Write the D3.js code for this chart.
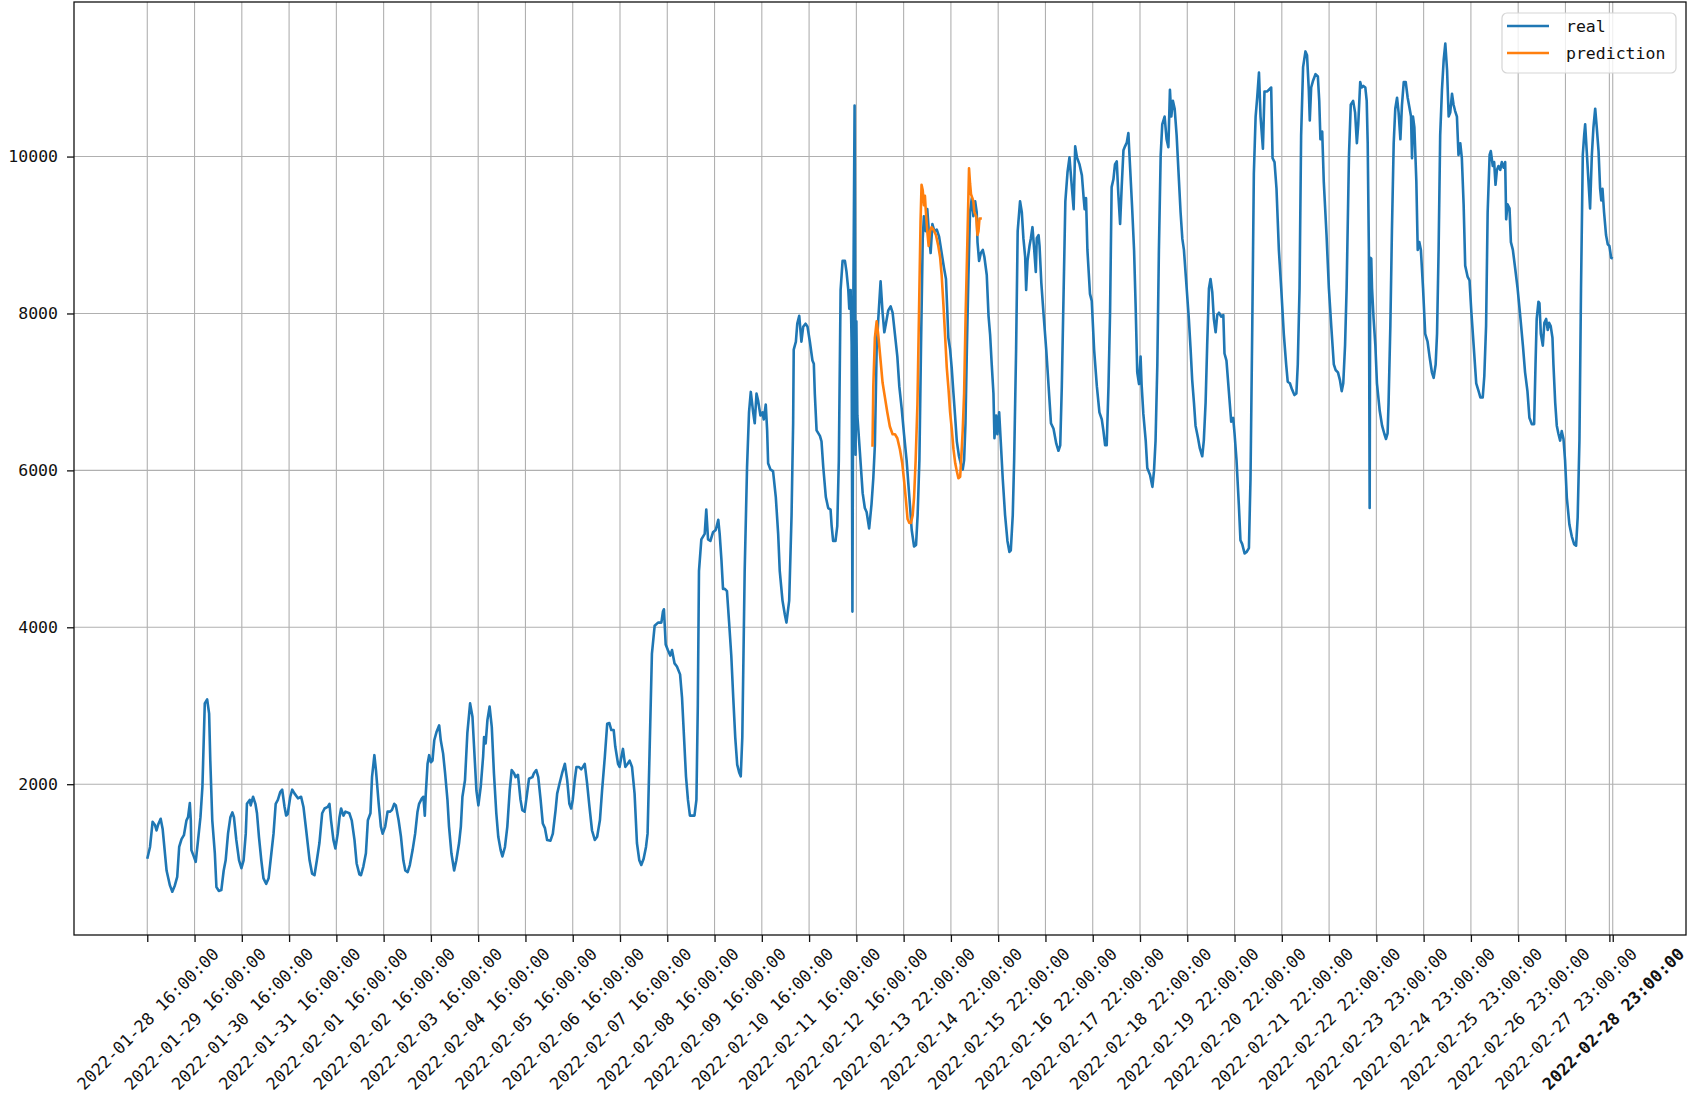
<!DOCTYPE html>
<html>
<head>
<meta charset="utf-8">
<script src="https://cdn.jsdelivr.net/npm/d3@7"></script>
<style>
  body { margin: 0; background: #fff; }
  svg { display: block; }
</style>
</head>
<body>
<svg id="chart"></svg>
<script>

WIDTH = 1707;
HEIGHT = 1098;

// hour index from 2022-01-28 16:00 (one point per hour)
const realHour = [
  0, 1.4, 2.7, 3.9, 4.7, 5.6, 6.8, 7.8, 9.8, 11.5,
  12.7, 14, 15.2, 16.2, 17.4, 18.6, 19.9, 20.7, 21.6, 22.1,
  22.4, 23.6, 24.6, 25.8, 27, 28, 29.2, 30.4, 31.4, 32,
  33, 34.3, 35.1, 36.3, 37.6, 38.8, 39.8, 41, 42.2, 43.2,
  44, 45.2, 46.6, 47.8, 48.9, 50, 50.6, 52, 52.5, 53.7,
  54.9, 55.7, 56.7, 57.9, 59, 60.4, 61.6, 63, 64.1, 65.2,
  66.3, 67.5, 68.5, 69.7, 70.5, 71.3, 72.6, 73.6, 74.8, 76.5,
  78.1, 79.3, 80.7, 82.4, 83.7, 84.9, 86.1, 87.4, 88.8, 90,
  91.6, 92.5, 93.3, 94.5, 95.5, 96.7, 97.6, 98.4, 99.6, 100.6,
  102.6, 103.8, 105.2, 106.3, 107.7, 108.5, 109.7, 111, 112, 113.3,
  114.1, 115.3, 116.1, 117.5, 118.6, 119.5, 120.8, 122, 123.2, 124.2,
  125.4, 126.2, 127.6, 128.8, 130, 131, 132.2, 133.3, 134.7, 136,
  137.2, 138, 139.4, 140.2, 140.9, 141.4, 142.3, 143.1, 144, 144.8,
  145.7, 146.9, 148.2, 149, 150.2, 151.2, 152.4, 153.2, 154.4, 155.8,
  156.9, 158.3, 159.2, 160, 161.3, 162.5, 163.9, 165.1, 165.9, 167.1,
  168.1, 169.3, 170.5, 171, 171.8, 172.7, 173.8, 174.9, 176, 177.2,
  178.2, 179.4, 180.3, 181.6, 182.8, 184, 185, 186.2, 187, 188.2,
  189.5, 190.4, 191.6, 192.4, 193.8, 195.5, 196.3, 197.5, 198.5, 199.7,
  200.8, 201.9, 203, 204.7, 205.9, 207.3, 208.1, 209.3, 210.6, 212,
  213.2, 214.3, 215.2, 216, 217, 217.9, 219.1, 220.3, 221.2, 222.1,
  223.3, 224.5, 225.8, 227.2, 228.4, 229.8, 230.9, 232.3, 233.5, 234.6,
  235.6, 236.8, 237.6, 239, 239.8, 240.7, 241.5, 242.7, 243.9, 244.9,
  246.1, 247.4, 248.6, 249.8, 250.8, 252, 253.2, 254, 255, 256.2,
  257.6, 259.3, 261, 261.8, 262.3, 263.2, 264.3, 265.5, 266.4, 267.7,
  268.9, 270.5, 271.5, 272.5, 273.5, 274.5, 275.5, 277.8, 278.8, 279.5,
  280.1, 281.3, 283, 283.8, 284.7, 285.9, 287.2, 288.6, 289.9, 290.6,
  291.5, 292.3, 293.2, 294.3, 295.4, 296.5, 297.5, 298.5, 299.5, 300.5,
  301.3, 302.1, 303.3, 304.5, 305.5, 306.4, 307.6, 308.4, 309.3, 310.1,
  311.3, 312.3, 313, 314, 314.7, 315.2, 316.4, 317.7, 319.1, 320.3,
  321.1, 322.5, 323.7, 324.5, 325.9, 327.1, 327.9, 328.2, 329.3, 330,
  331, 332.1, 333, 334.2, 335.2, 336.4, 337.7, 338.4, 338.9, 339.8,
  341.5, 342.3, 343.2, 344.5, 345.7, 346.9, 347.4, 348.2, 349.4, 350.3,
  351.1, 352, 353, 354.2, 355, 355.9, 356.4, 357.1, 357.6, 358,
  358.5, 359.1, 359.6, 360, 360.5, 361.8, 363.2, 364.3, 365.2, 366.5,
  367.7, 368.6, 369.4, 370.3, 371.1, 372.3, 373.3, 374.2, 375, 376.2,
  377.4, 378.4, 379.6, 380.8, 381.8, 383, 384.2, 385.5, 386.9, 388.1,
  389.3, 390.3, 391.1, 392, 392.8, 393.7, 394.3, 395.2, 396, 396.9,
  397.7, 398.6, 399.6, 400.8, 402, 403.3, 404.5, 405.5, 406.2, 406.7,
  407.6, 408.4, 409.3, 410.1, 411, 412.1, 413, 414, 414.7, 415.4,
  416.1, 416.9, 417.7, 418.6, 419.4, 420.3, 421.1, 421.5, 422.3, 423.2,
  424.2, 425, 426.2, 427.1, 427.9, 428.7, 429.6, 430.1, 431, 431.6,
  432.5, 433.3, 434.3, 435.5, 436.7, 437.7, 438.4, 439.4, 440.1, 441.1,
  441.9, 443.1, 444, 444.8, 445.7, 446.2, 446.9, 447.9, 448.6, 449.4,
  450.3, 451.1, 451.6, 452.5, 453, 453.9, 455.1, 456.4, 457.6, 458.8,
  460.1, 461.5, 462.6, 463.5, 464.3, 465.2, 466.1, 467.2, 468.2, 469.4,
  470.3, 471.1, 472, 473.3, 474.5, 475.4, 475.9, 476.6, 477.3, 478.6,
  479.5, 480.7, 482.1, 483.4, 484.6, 485.4, 486.3, 487.1, 488, 488.8,
  489.6, 490.5, 491.3, 492.2, 493, 493.9, 494.7, 495.6, 496.4, 497.3,
  498.1, 499, 500, 501, 501.8, 502.6, 503.5, 504.3, 504.8, 505.7,
  506.9, 507.7, 509.1, 510.3, 511.1, 511.9, 512.8, 513.6, 514.5, 515.3,
  516.5, 517.5, 518.4, 519.2, 519.9, 520.7, 521.6, 522.6, 523.8, 524.6,
  525.5, 526.3, 527.7, 528.8, 529.7, 530.5, 531.4, 532.2, 533.4, 534.4,
  535.6, 536.4, 537.3, 538.1, 539, 539.8, 540.7, 541.5, 542.4, 543.2,
  544.1, 545.2, 546.3, 546.9, 547.9, 549.1, 550.3, 551.3, 552, 553,
  554.2, 555, 555.9, 557.1, 558.1, 559.3, 560.1, 561, 561.8, 562.7,
  563.5, 564.4, 565.2, 566.4, 567.2, 568.6, 570.6, 571.3, 572.3, 573.3,
  574.5, 575.7, 577, 578.2, 579, 580.1, 581.2, 582.4, 583.4, 584.1,
  585, 585.8, 586.8, 588, 588.8, 589.7, 590.2, 590.9, 591.9, 593.1,
  594.3, 595, 595.6, 596.5, 597.3, 598.7, 599.9, 601.1, 602.4, 603.3,
  604.5, 605.5, 606.4, 607.2, 608.1, 608.9, 610.1, 611, 612.2, 613.2,
  614.1, 614.8, 615.8, 616.5, 617.4, 618.4, 619.1, 619.6, 620.2, 620.6,
  620.9, 621.4, 621.8, 622.6, 623.5, 624.3, 625.7, 626.9, 628, 628.9,
  629.7, 630.2, 631.1, 631.9, 632.8, 633.6, 634.5, 635.3, 636.2, 637,
  637.9, 638.9, 639.9, 640.9, 641.6, 642.1, 642.6, 643.3, 644.3, 645,
  645.8, 646.6, 647.7, 648.8, 650, 651, 652.2, 653.1, 654.1, 654.8,
  655.6, 656.4, 657.3, 658.2, 659, 659.9, 660.7, 661.5, 662.4, 663.2,
  664, 664.9, 665.7, 666.6, 667.4, 668.3, 669.1, 670.3, 671.3, 672.2,
  673.4, 674.7, 675.9, 676.8, 678, 678.8, 679.7, 680.5, 681.5, 682.1,
  683.1, 683.8, 684.5, 685.2, 686, 686.9, 687.7, 688.6, 689.4, 689.9,
  690.6, 691.6, 692.3, 693.3, 694.5, 695.7, 697, 698.4, 699.5, 700.7,
  701.7, 702.9, 704.1, 704.8, 705.4, 706.3, 706.8, 707.5, 708.5, 709.3,
  710.2, 711, 711.7, 712.5, 713.4, 713.9, 714.8, 715.6, 716.4, 717.3,
  718.1, 719, 719.8, 720.7, 722, 723.2, 724.4, 725.4, 726.2, 727.1,
  727.9, 728.8, 729.5, 730, 730.8, 731.7, 732.5, 733.4, 734.2, 735.1,
  735.9, 736.8, 737.6, 738.2, 738.8, 739.6, 740.6, 741.5, 742.3, 743.2,
  744
];
const realValue = [
  1050, 1200, 1520, 1480, 1410, 1490, 1560, 1430, 900, 710,
  630, 710, 820, 1200, 1300, 1350, 1540, 1580, 1760, 1540,
  1160, 1080, 1010, 1290, 1580, 1970, 3030, 3080, 2900, 2300,
  1540, 1120, 690, 640, 650, 900, 1030, 1370, 1580, 1640,
  1580, 1290, 1030, 930, 1030, 1370, 1750, 1800, 1730, 1840,
  1750, 1630, 1330, 1030, 800, 730, 800, 1120, 1370, 1750,
  1800, 1900, 1930, 1710, 1600, 1620, 1840, 1930, 1880, 1820,
  1840, 1710, 1410, 1030, 860, 840, 1030, 1250, 1630, 1690,
  1710, 1750, 1540, 1290, 1180, 1370, 1580, 1690, 1600, 1650,
  1630, 1540, 1290, 990, 850, 840, 950, 1120, 1540, 1630,
  2090, 2370, 2180, 1750, 1460, 1370, 1460, 1650, 1650, 1670,
  1750, 1730, 1540, 1330, 1030, 900, 880, 970, 1160, 1370,
  1650, 1750, 1820, 1840, 1600, 1880, 2260, 2370, 2280, 2300,
  2560, 2670, 2750, 2560, 2390, 2140, 1800, 1460, 1120, 900,
  1030, 1250, 1460, 1840, 2050, 2650, 3030, 2860, 2480, 1920,
  1730, 1970, 2350, 2600, 2520, 2820, 2990, 2730, 2140, 1630,
  1330, 1160, 1080, 1200, 1460, 1920, 2180, 2140, 2090, 2120,
  1800, 1670, 1650, 1800, 2070, 2090, 2140, 2180, 2090, 1800,
  1500, 1440, 1290, 1280, 1370, 1670, 1880, 2010, 2140, 2260,
  2050, 1750, 1690, 1800, 2050, 2220, 2220, 2190, 2220, 2260,
  2010, 1710, 1410, 1290, 1330, 1540, 1920, 2350, 2770, 2780,
  2690, 2690, 2480, 2260, 2220, 2350, 2450, 2220, 2260, 2300,
  2220, 1880, 1250, 1030, 970, 1050, 1200, 1370, 2390, 3660,
  4020, 4060, 4060, 4200, 4230, 3780, 3710, 3640, 3710, 3540,
  3500, 3400, 3100, 2600, 2100, 1800, 1600, 1600, 1800, 3000,
  4720, 5120, 5190, 5500, 5120, 5100, 5210, 5240, 5370, 5190,
  4860, 4490, 4490, 4460, 4060, 3640, 3100, 2600, 2250, 2150,
  2100, 2600, 4720, 6040, 6740, 7000, 6740, 6600, 6980, 6890,
  6700, 6740, 6650, 6840, 6510, 6090, 6010, 5990, 5660, 5190,
  4720, 4340, 4160, 4060, 4340, 5430, 6600, 7540, 7640, 7870,
  7970, 7640, 7830, 7870, 7830, 7640, 7400, 7360, 6980, 6510,
  6440, 6370, 6040, 5660, 5520, 5500, 5310, 5100, 5100, 5290,
  6130, 8300, 8670, 8670, 8530, 8300, 8060, 8300, 7600, 4200,
  8300, 10650, 6200, 7900, 6700, 6230, 5710, 5520, 5470, 5260,
  5570, 5900, 6320, 7540, 7920, 8410, 8010, 7760, 7870, 8040,
  8090, 8010, 7730, 7450, 7070, 6790, 6460, 6130, 5660, 5240,
  5030, 5050, 5430, 6130, 7540, 8960, 9240, 9050, 9330, 9000,
  8770, 9140, 9050, 9070, 8980, 8770, 8580, 8440, 8010, 7690,
  7540, 7310, 6980, 6700, 6370, 6180, 6090, 6010, 6130, 6600,
  7540, 8490, 9290, 9470, 9240, 9430, 9290, 8910, 8670, 8770,
  8810, 8720, 8490, 7970, 7730, 7360, 6980, 6410, 6700, 6460,
  6740, 6370, 5900, 5430, 5100, 4960, 4980, 5430, 6130, 7540,
  9050, 9430, 9290, 8960, 8720, 8300, 8670, 8860, 8960, 9100,
  8810, 8530, 8960, 9000, 8860, 8390, 7970, 7540, 7070, 6600,
  6530, 6340, 6250, 6320, 7070, 8250, 9430, 9800, 9990, 9610,
  9330, 10130, 9990, 9900, 9760, 9470, 9330, 9470, 8810, 8250,
  8160, 7540, 7070, 6740, 6650, 6510, 6320, 6320, 7070, 8010,
  9610, 9710, 9900, 9940, 9520, 9140, 9610, 10080, 10130, 10180,
  10300, 9850, 9350, 8800, 8080, 7250, 7100, 7450, 7100, 6720,
  6380, 6030, 5940, 5790, 5990, 6380, 7350, 8810, 10020, 10410,
  10510, 10220, 10120, 10850, 10510, 10710, 10610, 10270, 9680, 9290,
  8950, 8810, 8320, 7930, 7540, 7150, 6860, 6570, 6420, 6280,
  6180, 6380, 6860, 7590, 8320, 8440, 8270, 7930, 7760, 7980,
  8010, 7960, 7980, 7490, 7400, 7010, 6620, 6670, 6470, 6130,
  5550, 5110, 5060, 4940, 4960, 5010, 5890, 7840, 9780, 10510,
  10750, 11070, 10510, 10100, 10830, 10830, 10880, 9980, 9930, 9590,
  8810, 8320, 7740, 7350, 7130, 7110, 7030, 6960, 6980, 7350,
  8320, 10270, 11140, 11340, 11290, 10850, 10460, 10880, 10970, 11050,
  11020, 10710, 10220, 10320, 9680, 9000, 8320, 7840, 7350, 7280,
  7250, 7150, 7010, 7110, 7590, 8320, 10020, 10660, 10710, 10560,
  10170, 10410, 10950, 10880, 10900, 10880, 10710, 10170, 8810, 5520,
  8710, 8700, 8320, 7930, 7590, 7110, 6760, 6570, 6470, 6400,
  6470, 6860, 7840, 9050, 10170, 10610, 10750, 10560, 10220, 10660,
  10950, 10950, 10750, 10610, 10510, 9980, 10510, 10370, 9680, 8810,
  8910, 8810, 8320, 7740, 7640, 7450, 7250, 7180, 7350, 7740,
  8810, 10270, 10850, 11240, 11440, 11100, 10510, 10560, 10800, 10660,
  10580, 10510, 10020, 10170, 9980, 9390, 8610, 8470, 8420, 8030,
  7590, 7110, 7010, 6930, 6930, 7200, 7840, 9290, 10020, 10070,
  9880, 9930, 9640, 9830, 9880, 9830, 9930, 9860, 9930, 9200,
  9390, 9340, 8910, 8810, 8570, 8320, 7980, 7590, 7250, 7010,
  6670, 6590, 6590, 7350, 7930, 8150, 8130, 7740, 7590, 7880,
  7930, 7790, 7880, 7840, 7690, 7350, 6860, 6570, 6470, 6380,
  6500, 6400, 6130, 5650, 5310, 5160, 5060, 5040, 5400, 6380,
  8320, 10020, 10270, 10410, 10070, 9680, 9340, 10020, 10370, 10610,
  10370, 10070, 9590, 9440, 9590, 9290, 9000, 8880, 8860, 8710,
  8700
];

const predHour = [
  368.2, 368.6, 369.4, 370.3, 371.1, 372.3, 373.3, 374.5, 375.7, 377,
  378.4, 379.6, 380.8, 382.1, 383.3, 384.3, 385.2, 386, 386.9, 387.7,
  388.6, 389.3, 390.1, 391, 391.8, 392.6, 393.1, 393.7, 394.3, 394.8,
  395.3, 396, 396.7, 397.4, 398.2, 399.1, 400.4, 401.6, 402.5, 403.3,
  404.2, 405.1, 405.9, 406.8, 407.6, 408.5, 409.3, 410.2, 411, 411.8,
  412.7, 413.2, 414, 414.7, 415.5, 416.4, 417.2, 417.7, 418.2, 418.9,
  419.4, 419.9, 420.8, 421.5, 422, 422.5, 423.2, 423.7
];
const predValue = [
  6300, 7070, 7690, 7900, 7730, 7400, 7120, 6930, 6740, 6560,
  6460, 6460, 6410, 6270, 6090, 5850, 5610, 5380, 5330, 5330,
  5430, 5660, 6130, 6840, 8010, 9190, 9640, 9570, 9380, 9500,
  9290, 9050, 8860, 9050, 9100, 9070, 9000, 8860, 8720, 8490,
  8110, 7690, 7310, 7030, 6740, 6510, 6270, 6090, 5990, 5900,
  5920, 6130, 6510, 6980, 8010, 8960, 9850, 9660, 9520, 9470,
  9430, 9290, 9240, 9000, 9050, 9210, 9210, 9210
];

// x ticks every 24 points, plus one extra right next to the last one
const tickHour = [
  0, 24, 48, 72, 96, 120, 144, 168, 192, 216, 240, 264, 288, 312, 336, 360,
  384, 408, 432, 456, 480, 504, 528, 552, 576, 600, 624, 648, 672, 696, 720, 744,
  742.3
];
const tickLabels = [
  "2022-01-28 16:00:00", "2022-01-29 16:00:00", "2022-01-30 16:00:00", "2022-01-31 16:00:00",
  "2022-02-01 16:00:00", "2022-02-02 16:00:00", "2022-02-03 16:00:00", "2022-02-04 16:00:00",
  "2022-02-05 16:00:00", "2022-02-06 16:00:00", "2022-02-07 16:00:00", "2022-02-08 16:00:00",
  "2022-02-09 16:00:00", "2022-02-10 16:00:00", "2022-02-11 16:00:00", "2022-02-12 16:00:00",
  "2022-02-13 22:00:00", "2022-02-14 22:00:00", "2022-02-15 22:00:00", "2022-02-16 22:00:00",
  "2022-02-17 22:00:00", "2022-02-18 22:00:00", "2022-02-19 22:00:00", "2022-02-20 22:00:00",
  "2022-02-21 22:00:00", "2022-02-22 22:00:00", "2022-02-23 23:00:00", "2022-02-24 23:00:00",
  "2022-02-25 23:00:00", "2022-02-26 23:00:00", "2022-02-27 23:00:00", "2022-02-28 23:00:00",
  "2022-02-28 23:00:00"
];
const yTicks = [2000, 4000, 6000, 8000, 10000];

const seriesNames = ["real", "prediction"];
const seriesColors = ["#1f77b4", "#ff7f0e"];

const FONT = "'DejaVu Sans Mono', 'Liberation Mono', monospace";
const FS = 16.5;     // y ticks + legend
const FS_X = 16.8;   // rotated date labels

// plot area
const plot = { left: 74, right: 1686, top: 2, bottom: 935 };

const SVG = d3.select("#chart")
    .attr("width", WIDTH)
    .attr("height", HEIGHT)
    .style("font-family", FONT);

const x = d3.scaleLinear().domain([-37.2, 781.2]).range([plot.left, plot.right]);
const y = d3.scaleLinear().domain([78, 11970]).range([plot.bottom, plot.top]);

// grid
const grid = SVG.append("g").attr("stroke", "#b0b0b0").attr("stroke-width", 1.1);
grid.selectAll(".gx")
    .data(tickHour)
    .join("line")
    .attr("x1", d => x(d)).attr("x2", d => x(d))
    .attr("y1", plot.top).attr("y2", plot.bottom);
grid.selectAll(".gy")
    .data(yTicks)
    .join("line")
    .attr("x1", plot.left).attr("x2", plot.right)
    .attr("y1", d => y(d)).attr("y2", d => y(d));

// lines
const line = d3.line()
    .x(d => x(d[0]))
    .y(d => y(d[1]));

const realData = realHour.map((h, i) => [h, realValue[i]]);
const predData = predHour.map((h, i) => [h, predValue[i]]);

[realData, predData].forEach((data, k) => {
    SVG.append("path")
        .datum(data)
        .attr("fill", "none")
        .attr("stroke", seriesColors[k])
        .attr("stroke-width", 2.6)
        .attr("stroke-linejoin", "round")
        .attr("d", line);
});

// frame
SVG.append("rect")
    .attr("x", plot.left).attr("y", plot.top)
    .attr("width", plot.right - plot.left)
    .attr("height", plot.bottom - plot.top)
    .attr("fill", "none")
    .attr("stroke", "#111")
    .attr("stroke-width", 1.3);

// x axis
const last = tickHour.length - 1;
const xAxis = SVG.append("g")
    .attr("transform", `translate(0,${plot.bottom})`)
    .call(d3.axisBottom(x)
        .tickValues(tickHour)
        .tickFormat((d, i) => tickLabels[i])
        .tickSize(7));
xAxis.select(".domain").remove();
xAxis.selectAll(".tick line").attr("stroke", "#111").attr("stroke-width", 1.3);
xAxis.selectAll(".tick text")
    .attr("fill", "#111")
    .style("font-family", FONT)
    .style("font-size", FS_X + "px")
    // the two end labels print on top of each other and read as bold
    .style("font-weight", (d, i) => i >= last - 1 ? "bold" : null)
    .style("display", (d, i) => i === last ? "none" : null)
    .attr("text-anchor", "middle")
    .attr("dominant-baseline", "central")
    .attr("x", 0).attr("y", 0).attr("dy", null)
    .attr("transform", function() {
        const L = this.getComputedTextLength();
        const half = (L + FS_X) / (2 * Math.SQRT2);
        return `translate(0,${7 + 3 + half}) rotate(-45)`;
    });

// y axis
const yAxis = SVG.append("g")
    .attr("transform", `translate(${plot.left},0)`)
    .call(d3.axisLeft(y).tickValues(yTicks).tickFormat(d3.format("d")).tickSize(7).tickPadding(9));
yAxis.select(".domain").remove();
yAxis.selectAll(".tick line").attr("stroke", "#111").attr("stroke-width", 1.3);
yAxis.selectAll(".tick text")
    .attr("fill", "#111")
    .style("font-family", FONT)
    .style("font-size", FS + "px");

// legend
const legend = SVG.append("g").attr("transform", "translate(1502,13)");
legend.append("rect")
    .attr("width", 174).attr("height", 60).attr("rx", 5)
    .attr("fill", "white").attr("fill-opacity", 0.8)
    .attr("stroke", "#d5d5d5").attr("stroke-width", 1.2);
seriesNames.forEach((name, i) => {
    const row = legend.append("g").attr("transform", `translate(0,${13 + i * 27})`);
    row.append("line")
        .attr("x1", 5).attr("x2", 47)
        .attr("stroke", seriesColors[i]).attr("stroke-width", 2.6);
    row.append("text")
        .attr("x", 64)
        .attr("dominant-baseline", "central")
        .style("font-size", FS + "px")
        .attr("fill", "#111")
        .text(name);
});

</script>
</body>
</html>
